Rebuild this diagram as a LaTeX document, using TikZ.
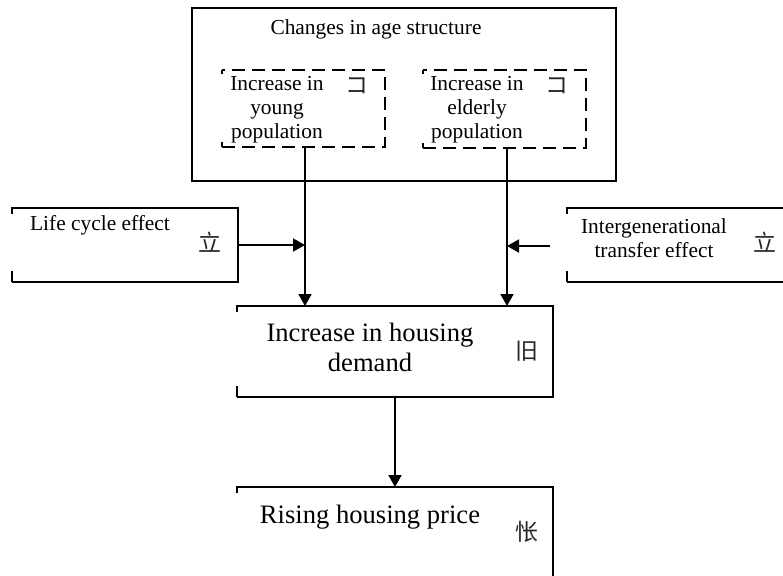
\documentclass[tikz,border=0pt]{standalone}
\usepackage{fontspec}
\setmainfont{Liberation Serif}
\newfontfamily\cjk{Noto Sans CJK SC}
\usetikzlibrary{arrows.meta}

\begin{document}
\begin{tikzpicture}
[
    x=0.5pt, y=-0.5pt,
    line width=0.9pt,
    frame/.style={inner sep=0pt, outer sep=0pt},
    dashframe/.style={frame, draw, dashed, dash pattern=on 6.5pt off 3.5pt},
    small/.style={inner sep=0pt, align=center, font=\fontsize{10.7}{12}\selectfont},
    big/.style={inner sep=0pt, align=center, font=\fontsize{13.3}{15}\selectfont},
    glyph/.style={inner sep=0pt, text=black!85, font=\cjk\fontsize{11.5}{12}\selectfont},
    arr/.style={-{Triangle[length=6pt,width=6.5pt]}},
]
\useasboundingbox (0,0) rectangle (783,575);
\clip (0,0) rectangle (783,575);

% boxes
\node [frame, draw, minimum width=212pt, minimum height=86.5pt] (age) at (404,94.5) {};
\node [dashframe, draw=none, minimum width=81.5pt, minimum height=38.5pt] (young) at (303.5,108.5) {};
\node [dashframe, draw=none, minimum width=81.5pt, minimum height=39pt] (elderly) at (504.5,109) {};
\node [frame, minimum width=113pt, minimum height=37pt] (life) at (125,245) {};
\node [frame, minimum width=116.5pt, minimum height=37pt] (inter) at (683.5,245) {};
\node [frame, minimum width=158pt, minimum height=45.5pt] (demand) at (395,351.5) {};
\node [frame, minimum width=158pt, minimum height=56.5pt] (price) at (395,543.5) {};

% open left sides
\foreach \n in {life,inter,demand,price}{
    \draw (\n.south west) -- (\n.south east) -- (\n.north east) -- (\n.north west) -- ++(0,6);
    \draw (\n.south west) -- ++(0,-11);
}
\foreach \n in {young,elderly}{
    \draw [dashed, dash pattern=on 6.5pt off 3.5pt] (\n.south west) -- (\n.south east) -- (\n.north east) -- (\n.north west);
    \draw (\n.north west) -- ++(0,4);
    \draw (\n.south west) -- ++(0,-5);
}

% texts
\node [small] (agetxt) at (376,29) {Changes in age structure};
\node [small] (youngtxt) at (277,110) {Increase in\\young\\population};
\node [small] (eldtxt) at (477,110) {Increase in\\elderly\\population};
\node [small] (lifetxt) at (100,225) {Life cycle effect};
\node [small] (intertxt) at (654,238) {Intergenerational\\transfer effect};
\node [big] (demtxt) at (370,347) {Increase in housing\\demand};
\node [big] (pricetxt) at (370,517) {Rising housing price};

\node [glyph] (g1) at (357,86) {コ};
\node [glyph] (g2) at (557,86) {コ};
\node [glyph] (g3) at (210,242) {立};
\node [glyph] (g4) at (765,242) {立};
\node [glyph] (g5) at (527,351) {旧};
\node [glyph] (g6) at (527,532) {怅};

% connectors
\coordinate (ya) at (305,0);
\coordinate (ea) at (507,0);
\coordinate (da) at (395,0);
\coordinate (is) at (550,246);
\draw [arr] (ya |- young.south) -- (ya |- demand.north);
\draw [arr] (ea |- elderly.south) -- (ea |- demand.north);
\draw [arr] (life.east) -- (life.east -| ya);
\draw [arr] (is) -- (is -| ea);
\draw [arr] (da |- demand.south) -- (da |- price.north);
\end{tikzpicture}
\end{document}
